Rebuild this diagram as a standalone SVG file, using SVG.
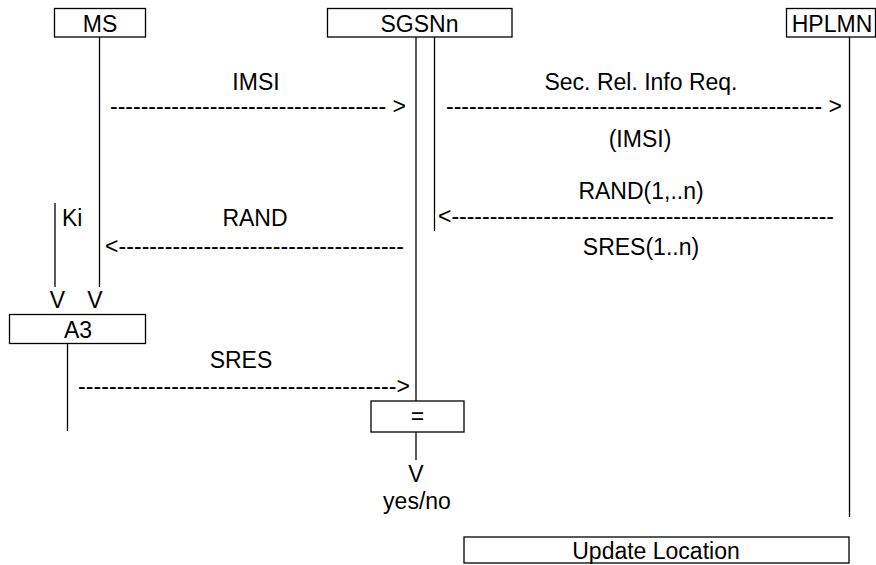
<svg xmlns="http://www.w3.org/2000/svg" width="876" height="565" viewBox="0 0 876 565">
<style>
text{font-family:"Liberation Sans",Arial,sans-serif;font-size:23px;fill:#000}
.c{text-anchor:middle}
.box{fill:#fff;stroke:#000;stroke-width:1.3}
.ln{stroke:#000;stroke-width:1.3;fill:none}
</style>
<rect width="876" height="565" fill="#fff"/>
<g id="connectors">
<line class="ln" x1="99.5" y1="37" x2="99.5" y2="287"/>
<line class="ln" x1="55" y1="203" x2="55" y2="287"/>
<line class="ln" x1="67.5" y1="343" x2="67.5" y2="431"/>
<line class="ln" x1="416" y1="37" x2="416" y2="401"/>
<line class="ln" x1="416" y1="432" x2="416" y2="460"/>
<line class="ln" x1="434.5" y1="37" x2="434.5" y2="231"/>
<line class="ln" x1="849.5" y1="37" x2="849.5" y2="517"/>
<text x="110" y="114" textLength="296" lengthAdjust="spacing">------------------------------------ &gt;</text>
<text x="446" y="114" textLength="396" lengthAdjust="spacing">------------------------------------------------- &gt;</text>
<text x="438" y="224" textLength="396" lengthAdjust="spacing">&lt;--------------------------------------------------</text>
<text x="105" y="254" textLength="299" lengthAdjust="spacing">&lt;-------------------------------------</text>
<text x="78" y="394" textLength="332" lengthAdjust="spacing">-----------------------------------------&gt;</text>
</g>
<g id="labels">
<text class="c" x="256" y="90">IMSI</text>
<text class="c" x="641" y="90">Sec. Rel. Info Req.</text>
<text class="c" x="640" y="147">(IMSI)</text>
<text class="c" x="641" y="199">RAND(1,..n)</text>
<text class="c" x="641" y="255">SRES(1..n)</text>
<text x="62" y="226">Ki</text>
<text class="c" x="255" y="226">RAND</text>
<text class="c" x="57.5" y="308">V</text>
<text class="c" x="95" y="308">V</text>
<text class="c" x="241" y="368">SRES</text>
<text class="c" x="416" y="482">V</text>
<text class="c" x="417" y="509">yes/no</text>
</g>
<g id="MS"><rect class="box" x="54.5" y="8.5" width="91" height="28.5"/><text class="c" x="100" y="32">MS</text></g>
<g id="SGSNn"><rect class="box" x="327.5" y="8.5" width="184.5" height="28.5"/><text class="c" x="419.5" y="32">SGSNn</text></g>
<g id="HPLMN"><rect class="box" x="786.5" y="8.5" width="89" height="28.5"/><text class="c" x="832" y="32">HPLMN</text></g>
<g id="A3"><rect class="box" x="9.5" y="314.5" width="136" height="29"/><text class="c" x="78" y="338">A3</text></g>
<g id="eq"><rect class="box" x="371" y="401" width="93" height="31"/><text class="c" x="417.5" y="424">=</text></g>
<g id="update"><rect class="box" x="464" y="537" width="385" height="26"/><text class="c" x="656" y="559">Update Location</text></g>
</svg>
